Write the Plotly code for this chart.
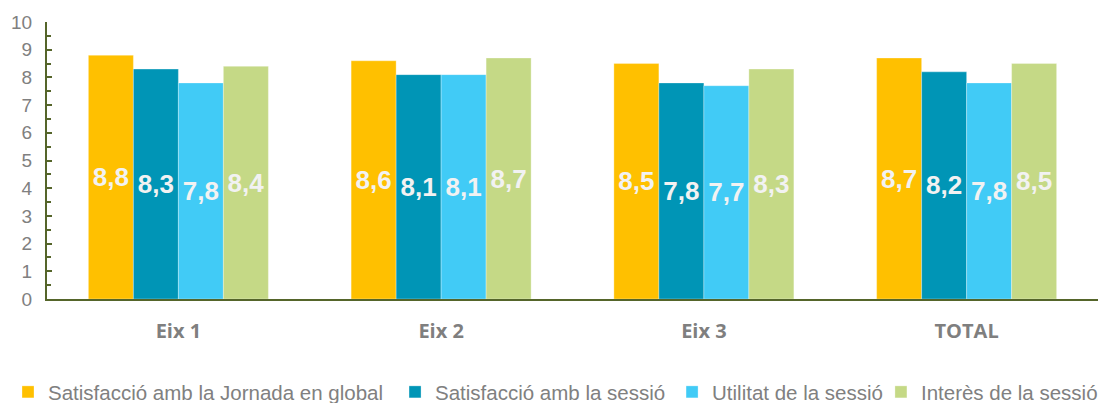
import plotly.graph_objects as go

categories = ["Eix 1", "Eix 2", "Eix 3", "TOTAL"]
series_names = [
    "Satisfacció amb la Jornada en global",
    "Satisfacció amb la sessió",
    "Utilitat de la sessió",
    "Interès de la sessió",
]
jornada = [8.8, 8.6, 8.5, 8.7]
sessio = [8.3, 8.1, 7.8, 8.2]
utilitat = [7.8, 8.1, 7.7, 7.8]
interes = [8.4, 8.7, 8.3, 8.5]
colors = ["#FFC000", "#0095B6", "#41CBF6", "#C5D986"]
y_ticks = list(range(0, 11))

legend_ids = ["legend", "legend2", "legend3", "legend4"]
legend_x = [0.0, 0.3465, 0.5945, 0.7815]

fig = go.Figure()
for name, vals, col, lg in zip(series_names, [jornada, sessio, utilitat, interes], colors, legend_ids):
    fig.add_trace(go.Bar(
        x=categories, y=vals, name=name, legend=lg,
        marker=dict(color=col, line=dict(color="rgba(255,255,255,0.6)", width=0.5)),
        text=[f"{v:.1f}".replace(".", ",") for v in vals],
        textposition="inside", insidetextanchor="middle",
        textangle=0,
        textfont=dict(family="Liberation Sans, Arial", size=26, color="#F2F2F2", weight="bold"),
        cliponaxis=False,
    ))

axis_col = "#55652A"
legend_style = dict(
    orientation="h", xref="container", yref="container",
    y=0.047, xanchor="left", yanchor="middle",
    font=dict(size=20.5, color="#808080"),
    itemwidth=30, bgcolor="rgba(0,0,0,0)",
)
fig.update_layout(
    width=1117, height=403,
    margin=dict(l=39, r=27, t=14, b=112, autoexpand=False),
    paper_bgcolor="white", plot_bgcolor="white",
    barmode="group", bargap=0.315, bargroupgap=0,
    uniformtext=dict(mode="show", minsize=10),
    font=dict(family="Liberation Sans, Arial", color="#808080"),
    showlegend=True,
    xaxis=dict(
        showline=True, linecolor=axis_col, linewidth=2, automargin=False,
        ticks="", showgrid=False, ticklabelstandoff=13,
        tickfont=dict(family="Open Sans", size=20, color="#7F7F7F", weight="bold"),
    ),
    yaxis=dict(
        range=[0, 10], tickvals=y_ticks, showgrid=False, zeroline=False,
        showline=True, linecolor=axis_col, linewidth=2, automargin=False,
        ticks="inside", ticklen=5, tickcolor=axis_col, tickwidth=2,
        minor=dict(dtick=0.5, ticks="inside", ticklen=4, tickcolor=axis_col, tickwidth=1.5),
        tickfont=dict(size=19, color="#808080"),
        ticklabelstandoff=9,
    ),
)
for lg, lx in zip(legend_ids, legend_x):
    fig.update_layout({lg: dict(legend_style, x=lx)})

fig.write_html("out.html")
